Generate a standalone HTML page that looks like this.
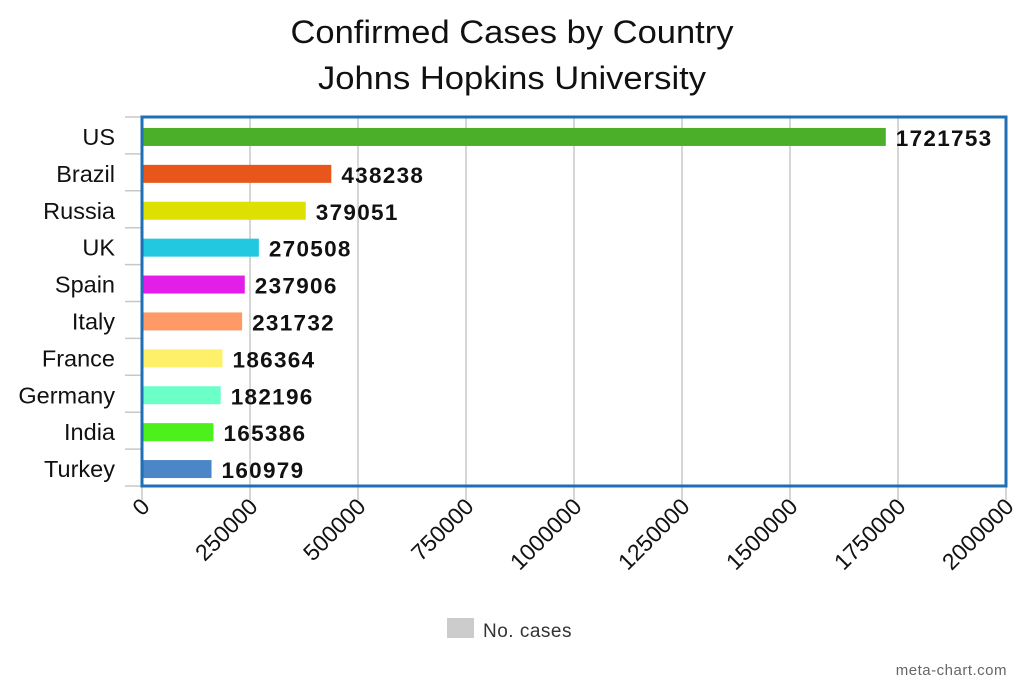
<!DOCTYPE html>
<html><head><meta charset="utf-8"><style>
html,body{margin:0;padding:0;background:#fff;}
svg{display:block;font-family:"Liberation Sans",Arial,sans-serif;}
</style></head><body>
<svg id="chart" width="1024" height="683" viewBox="0 0 1024 683" xmlns="http://www.w3.org/2000/svg">
<text x="512" y="43" text-anchor="middle" font-size="32" textLength="443" lengthAdjust="spacingAndGlyphs" fill="#111">Confirmed Cases by Country</text>
<text x="512" y="89" text-anchor="middle" font-size="32" textLength="388" lengthAdjust="spacingAndGlyphs" fill="#111">Johns Hopkins University</text>
<g id="grid"></g>
<g id="bars"></g>
<rect x="142" y="117" width="864" height="369" fill="none" stroke="#1f6fb5" stroke-width="3"/>
<g id="labels"></g>
<g>
<rect x="447" y="618" width="27" height="20" fill="#cccccc"/>
<text x="483" y="637" font-size="19" fill="#333" letter-spacing="0.5">No. cases</text>
</g>
<text x="1007" y="675" text-anchor="end" font-size="15" fill="#666" letter-spacing="0.5">meta-chart.com</text>
</svg>
<script>
const categories=["US","Brazil","Russia","UK","Spain","Italy","France","Germany","India","Turkey"];
const values=[1721753,438238,379051,270508,237906,231732,186364,182196,165386,160979];
const colors=["#4caf2a","#e8561c","#dde000","#22c8e0","#e21ee8","#ff9966","#fff06a","#6cffc8","#4cf01a","#4a86c8"];
const ticks=[0,250000,500000,750000,1000000,1250000,1500000,1750000,2000000];
const NS="http://www.w3.org/2000/svg";
const L=142,R=1006,T=117,B=486,MAX=2000000;
const band=(B-T)/categories.length;
const x=v=>L+(v/MAX)*(R-L);
const y=i=>T+i*band;
function mk(tag,attrs,parent){const e=document.createElementNS(NS,tag);for(const k in attrs)e.setAttribute(k,attrs[k]);parent.appendChild(e);return e;}
const grid=document.getElementById('grid'),bars=document.getElementById('bars'),labels=document.getElementById('labels');
ticks.forEach(t=>{
  const gl=mk('line',{x1:x(t),x2:x(t),y1:T,y2:B+14,stroke:'#c8c8c8','stroke-width':1.5},grid);
  
  
  const tx=x(t)+9,ty=B+22;
  const tl=mk('text',{x:tx,y:ty,'text-anchor':'end','font-size':23,fill:'#111',transform:`rotate(-45 ${tx} ${ty})`},labels);
  tl.textContent=String(t);
  
  
});
for(let i=0;i<=categories.length;i++){
  const tk=mk('line',{x1:125,x2:L,y1:y(i),y2:y(i),stroke:'#c8c8c8','stroke-width':1.5},grid);
  
  
}
categories.forEach((c,i)=>{
  const cy=y(i)+band/2+1.5;
  const r=mk('rect',{x:L,y:cy-9,width:x(values[i])-L,height:18,fill:colors[i]},bars);
  
  
  const cl=mk('text',{x:115,y:cy+8,'text-anchor':'end','font-size':23.5,fill:'#111'},labels);
  cl.textContent=c;
  
  
  const vl=mk('text',{x:x(values[i])+10,y:cy+9,'font-size':22.5,'font-weight':'bold',fill:'#111','letter-spacing':'1.3'},labels);
  vl.textContent=String(values[i]);
  
  
});
</script>
</body></html>
